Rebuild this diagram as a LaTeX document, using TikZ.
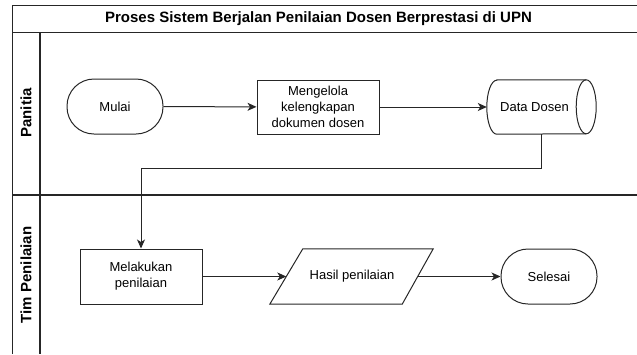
\documentclass[tikz,border=0pt]{standalone}
\usepackage{fontspec}
\setmainfont{Liberation Sans}
\usetikzlibrary{arrows.meta}
\begin{document}
\begin{tikzpicture}[x=1pt,y=1pt,
  frame/.style={line width=1.1pt, draw=black!85},
  shp/.style={draw=black!85, line width=1pt, font=\fontsize{13}{16}\selectfont, align=center, inner sep=0pt},
  term/.style={shp, minimum width=96pt, minimum height=55pt, rounded corners=27pt},
  proc/.style={shp, minimum width=122pt, minimum height=54pt},
  plain/.style={inner sep=0pt, font=\fontsize{13}{16}\selectfont, align=center},
  lanelbl/.style={font=\bfseries\fontsize{15}{18}\selectfont, rotate=90, inner sep=0pt},
  conn/.style={draw=black!85, line width=1pt, -{Stealth[length=9pt,width=8pt,inset=2.5pt]}}
]
\useasboundingbox (0,0) rectangle (637,-354);
% pool frame
\draw[frame] (12.5,-354) -- (12.5,-5.5) -- (637,-5.5);
\draw[frame] (12.5,-32.5) -- (637,-32.5);
\draw[frame] (40,-32.5) -- (40,-354);
\draw[frame] (12.5,-195) -- (637,-195);
\node[font=\bfseries\fontsize{15}{18}\selectfont, inner sep=0pt] (title) at (318.5,-19) {Proses Sistem Berjalan Penilaian Dosen Berprestasi di UPN};
\node[lanelbl] (l1) at (26,-113) {Panitia};
\node[lanelbl] (l2) at (26,-275) {Tim Penilaian};
% nodes
\node[term] (mulai) at (115,-106.5) {Mulai};
\node[proc] (kelola) at (318,-107) {Mengelola\\kelengkapan\\dokumen dosen};
\node[inner sep=0pt, minimum width=109pt, minimum height=54pt] (dd) at (541.5,-107) {};
\draw[line width=1pt, draw=black!85]
  ([xshift=10pt]dd.north west) -- ([xshift=-10pt]dd.north east)
  arc[start angle=90, end angle=-90, x radius=10pt, y radius=27pt]
  -- ([xshift=10pt]dd.south west)
  arc[start angle=270, end angle=90, x radius=10pt, y radius=27pt] -- cycle;
\draw[line width=1pt, draw=black!85] ([xshift=-10pt]dd.north east)
  arc[start angle=90, end angle=270, x radius=10pt, y radius=27pt];
\node[plain] (ddtext) at ([xshift=-7pt]dd.center) {Data Dosen};
\node[proc, minimum height=55pt] (mk) at (141,-276.5) {Melakukan\\penilaian};
\node[plain, minimum width=131pt, minimum height=55pt] (hp) at (352,-276.5) {Hasil penilaian};
\draw[line width=1pt, draw=black!85]
  ([xshift=-16.5pt]hp.south west) -- ([xshift=-15.5pt]hp.south east)
  -- ([xshift=15.5pt]hp.north east) -- ([xshift=16.5pt]hp.north west) -- cycle;
\node[term] (selesai) at (549,-276.5) {Selesai};
% connectors
\draw[conn] (mulai) -- (kelola);
\draw[conn] (kelola) -- (dd);
\draw[conn] (dd.south) -- ++(0,-34) -| (mk.north);
\draw[conn] (mk) -- (hp);
\draw[conn] (hp) -- (selesai);
\end{tikzpicture}
\end{document}
